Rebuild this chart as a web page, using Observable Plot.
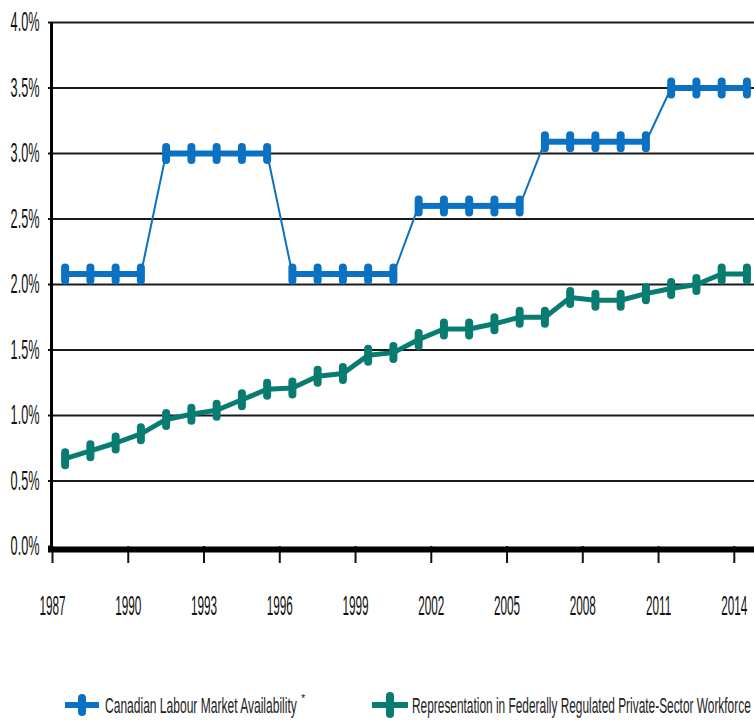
<!DOCTYPE html>
<html>
<head>
<meta charset="utf-8">
<script src="https://cdn.jsdelivr.net/npm/d3@7"></script>
<script src="https://cdn.jsdelivr.net/npm/@observablehq/plot@0.6"></script>
<style>
  html, body { margin: 0; padding: 0; background: #fff; }
  #wrap { position: relative; width: 754px; height: 727px; overflow: hidden; font-family: "Liberation Sans", Arial, sans-serif; }
  #chart { position: absolute; left: 0; top: 0; }
  #legend { position: absolute; left: 0; top: 680px; }
</style>
</head>
<body>
<div id="wrap"><div id="chart"></div><svg id="legend" width="754" height="47"></svg></div>
<script>
// ---- data ----
const years = [1987, 1988, 1989, 1990, 1991, 1992, 1993, 1994, 1995, 1996, 1997, 1998, 1999, 2000,
               2001, 2002, 2003, 2004, 2005, 2006, 2007, 2008, 2009, 2010, 2011, 2012, 2013, 2014];
const availability = [2.08, 2.08, 2.08, 2.08, 3.0, 3.0, 3.0, 3.0, 3.0, 2.08, 2.08, 2.08, 2.08, 2.08,
                      2.6, 2.6, 2.6, 2.6, 2.6, 3.09, 3.09, 3.09, 3.09, 3.09, 3.5, 3.5, 3.5, 3.5];
const representation = [0.67, 0.73, 0.79, 0.86, 0.97, 1.01, 1.04, 1.12, 1.20, 1.21, 1.30, 1.32, 1.46, 1.48,
                        1.58, 1.66, 1.66, 1.70, 1.75, 1.75, 1.90, 1.88, 1.88, 1.93, 1.97, 2.00, 2.08, 2.08];
const xTicks = [1987, 1990, 1993, 1996, 1999, 2002, 2005, 2008, 2011, 2014];
const yTicks = [0, 0.5, 1.0, 1.5, 2.0, 2.5, 3.0, 3.5, 4.0];
const seriesNames = ["Canadian Labour Market Availability", "Representation in Federally Regulated Private-Sector Workforce"];
const seriesColors = ["#0b71c2", "#087c70"];

// ---- derived tables ----
const blue = years.map((yr, i) => ({x: yr + 0.5, y: availability[i]}));
const green = years.map((yr, i) => ({x: yr + 0.5, y: representation[i]}));
const flats = blue.slice(1).map((d, i) => ({x1: blue[i].x, x2: d.x, y1: blue[i].y, y2: d.y}))
                  .filter(d => d.y1 === d.y2);

// vertical pill-shaped marker
const pill = {
  draw(ctx) {
    const r = 4, h = 6.5;
    ctx.moveTo(-r, -h);
    ctx.arc(0, -h, r, Math.PI, 0);
    ctx.lineTo(r, h);
    ctx.arc(0, h, r, 0, Math.PI);
    ctx.closePath();
  }
};

const chart = Plot.plot({
  width: 754,
  height: 650,
  marginLeft: 52,
  marginRight: 0,
  marginTop: 22,
  marginBottom: 104,
  x: {domain: [1987, 2014.8]},
  y: {domain: [0, 4]},
  style: {background: "white", color: "#111", fontFamily: "'Liberation Sans', Arial, sans-serif"},
  marks: [
    Plot.ruleY(yTicks.filter(d => d > 0), {stroke: "#1a1a1a", strokeWidth: 2}),
    Plot.axisY({ticks: yTicks, tickSize: 4, tickPadding: 9, strokeWidth: 2, fontSize: 27,
                tickFormat: d => d.toFixed(1) + "%", label: null}),
    Plot.axisX({ticks: xTicks, tickSize: 17, tickPadding: 32, strokeWidth: 2, fontSize: 28,
                tickFormat: d => String(d), label: null}),
    Plot.ruleX([1987], {stroke: "#000", strokeWidth: 3, dx: -1}),
    Plot.ruleY([0], {stroke: "#000", strokeWidth: 6, dy: 3, insetLeft: -4}),
    Plot.line(blue, {x: "x", y: "y", stroke: seriesColors[0], strokeWidth: 2}),
    Plot.link(flats, {x1: "x1", x2: "x2", y1: "y1", y2: "y2", stroke: seriesColors[0], strokeWidth: 6}),
    Plot.dot(blue, {x: "x", y: "y", symbol: pill, fill: seriesColors[0], stroke: "none", r: 5}),
    Plot.line(green, {x: "x", y: "y", stroke: seriesColors[1], strokeWidth: 5}),
    Plot.dot(green, {x: "x", y: "y", symbol: pill, fill: seriesColors[1], stroke: "none", r: 5})
  ]
});
document.getElementById("chart").appendChild(chart);

// condense tick label glyphs horizontally
function condense(sel, k) {
  chart.querySelectorAll(sel).forEach(el => {
    const t = el.getAttribute("transform") || "";
    if (el.hasAttribute("x")) el.setAttribute("x", (+el.getAttribute("x")) / k);
    el.setAttribute("transform", t + ` scale(${k},1)`);
  });
}
condense('g[aria-label="y-axis tick label"] text', 0.47);
condense('g[aria-label="x-axis tick label"] text', 0.42);

// ---- legend ----
const lg = d3.select("#legend");
const items = [
  {name: seriesNames[0], color: seriesColors[0], cx: 82, hw: 17, vh: 11, tx: 105, tw: 192, sup: true},
  {name: seriesNames[1], color: seriesColors[1], cx: 390, hw: 18, vh: 13, tx: 412, tw: 339, sup: false}
];
items.forEach(it => {
  const g = lg.append("g");
  g.append("rect").attr("x", it.cx - it.hw).attr("y", 22).attr("width", it.hw * 2).attr("height", 6).attr("fill", it.color);
  g.append("rect").attr("x", it.cx - 4).attr("y", 25 - it.vh).attr("width", 8).attr("height", it.vh * 2)
    .attr("rx", 4).attr("fill", it.color);
  const t = g.append("text").attr("x", 0).attr("y", 0).attr("font-size", 22).attr("fill", "#222")
    .attr("font-family", "'Liberation Sans', Arial, sans-serif").text(it.name);
  const natural = t.node().getComputedTextLength() || 1;
  t.attr("transform", `translate(${it.tx},33) scale(${it.tw / natural},1)`);
  if (it.sup) {
    g.append("text").attr("x", it.tx + it.tw + 4).attr("y", 22).attr("font-size", 11).attr("fill", "#222")
      .attr("font-family", "'Liberation Sans', Arial, sans-serif").text("*");
  }
});
</script>
</body>
</html>
